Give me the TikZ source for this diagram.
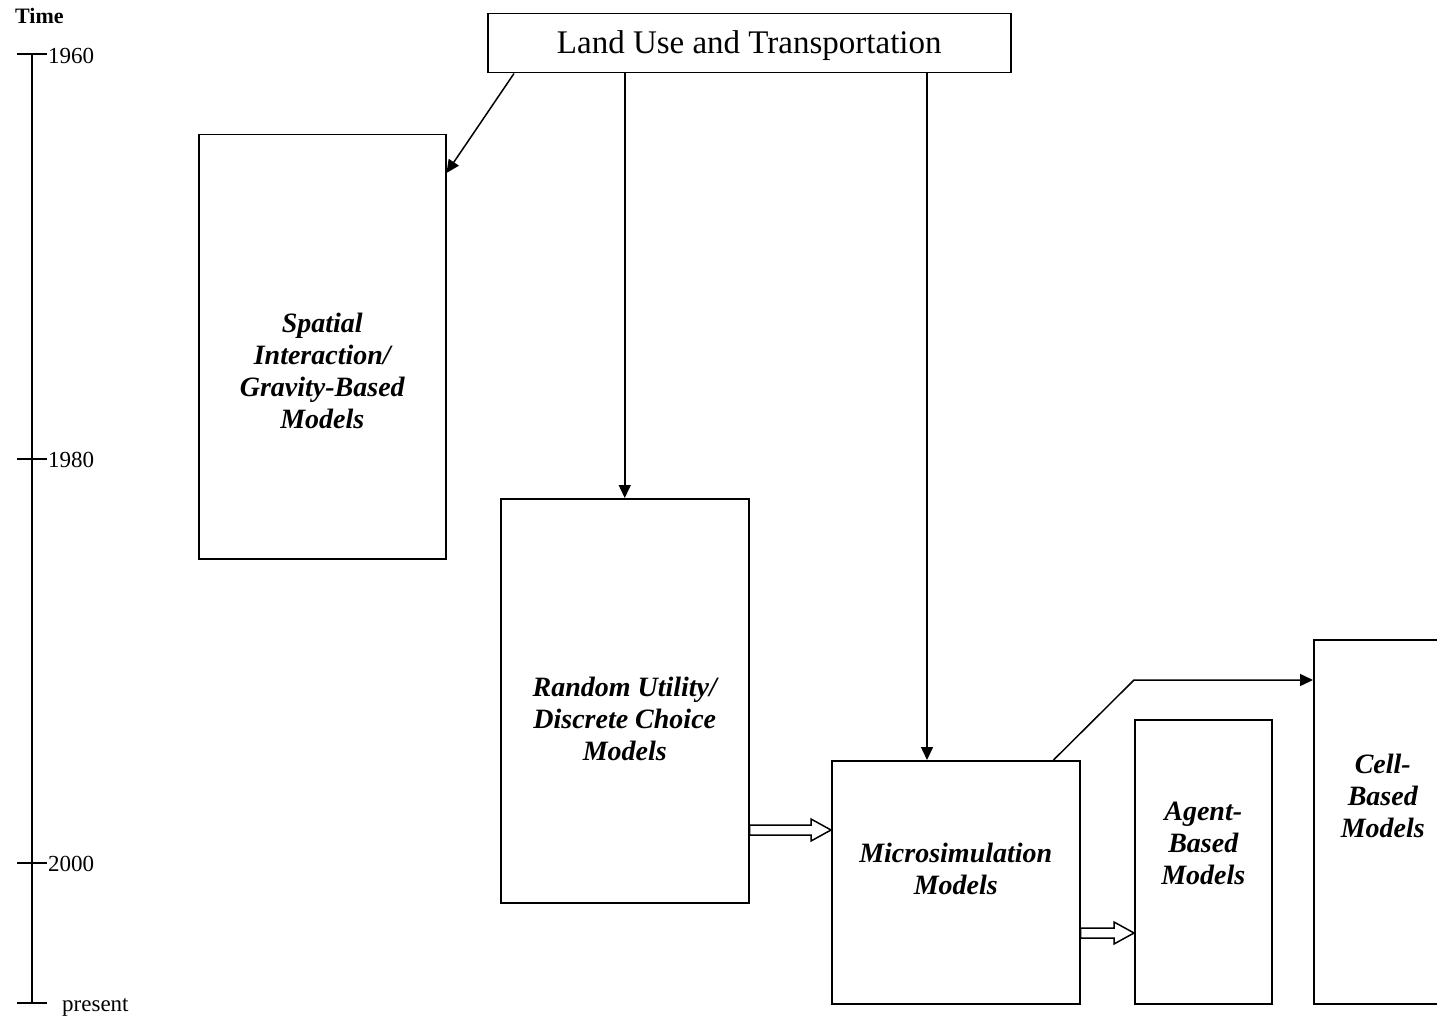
\documentclass[tikz,border=0pt]{standalone}
\usepackage{fontspec}
\setmainfont{Liberation Serif}
\usetikzlibrary{positioning, calc, arrows.meta}

\tikzset{
    modelbox/.style={
        draw,
        line width=1.5pt,
        anchor=north west,
        inner sep=0pt
    },
    modeltext/.style={
        align=center,
        inner sep=0pt,
        font=\fontsize{28}{32}\selectfont\bfseries\itshape
    },
    ptr/.style={
        -{Triangle[length=13pt, width=12pt]},
        line width=1.5pt
    },
    fatarrow/.style={
        draw,
        line width=1.5pt,
        fill=white
    },
    yearlbl/.style={
        anchor=west,
        inner sep=0pt,
        font=\fontsize{23}{27}\selectfont
    }
}

% hollow arrow between two points at the same height
\newcommand{\fatarrow}[2]{%
    \path[fatarrow] let \p1=(#1), \p2=(#2) in
        (\x1,\y1+5pt) -- (\x2-20pt,\y1+5pt) -- (\x2-20pt,\y1+11pt) -- (\x2,\y1)
        -- (\x2-20pt,\y1-11pt) -- (\x2-20pt,\y1-5pt) -- (\x1,\y1-5pt) -- cycle;}

\begin{document}
\begin{tikzpicture}[x=1pt, y=-1pt]
    \useasboundingbox (0,0) rectangle (1437,1016);
    \clip (0,0) rectangle (1437,1016);

    % time axis
    \node[anchor=west, inner sep=0pt, font=\fontsize{22}{26}\selectfont\bfseries] (time) at (15,16) {Time};
    \coordinate (t1960) at (32,54);
    \coordinate (t1980) at (32,459);
    \coordinate (t2000) at (32,863);
    \coordinate (tnow) at (32,1003);
    \draw[line width=1.5pt] (t1960) -- (tnow);
    \foreach \t in {t1960, t1980, t2000, tnow}
        \draw[line width=1.5pt] ([xshift=-15pt]\t) -- ([xshift=15pt]\t);
    \node[yearlbl] (y1960) at (48,56) {1960};
    \node[yearlbl] (y1980) at (48,460) {1980};
    \node[yearlbl] (y2000) at (48,864) {2000};
    \node[yearlbl] (ynow) at (62,1007) {present};

    % boxes
    \node[modelbox, minimum width=523pt, minimum height=59pt] (title) at (487,13) {};
    \node (titletext) at ([yshift=-2pt]title.center) [font=\fontsize{33}{38}\selectfont, inner sep=0pt] {Land Use and Transportation};

    \node[modelbox, minimum width=247pt, minimum height=424pt] (spatial) at (198,134) {};
    \node[modeltext] (spatialtext) at ([yshift=-24pt]spatial.center) {Spatial\\Interaction/\\Gravity-Based\\Models};

    \node[modelbox, minimum width=248pt, minimum height=404pt] (random) at (500,498) {};
    \node[modeltext] (randomtext) at ([yshift=-18pt]random.center) {Random Utility/\\Discrete Choice\\Models};

    \node[modelbox, minimum width=248pt, minimum height=243pt] (micro) at (831,760) {};
    \node[modeltext] (microtext) at ([yshift=13pt]micro.center) {Microsimulation\\Models};

    \node[modelbox, minimum width=137pt, minimum height=284pt] (agent) at (1134,719) {};
    \node[modeltext] (agenttext) at ([yshift=18pt]agent.center) {Agent-\\Based\\Models};

    \node[modelbox, minimum width=138pt, minimum height=364pt] (cell) at (1313,639) {};
    \node[modeltext] (celltext) at ([yshift=26pt]cell.center) {Cell-\\Based\\Models};

    % links
    \draw[ptr] ([xshift=27pt]title.south west) -- ([yshift=-39pt]spatial.north east);
    \draw[ptr] (title.south west -| random.north) -- (random.north);
    \draw[ptr] ([xshift=440pt]title.south west) -- ([xshift=440pt]title.south west |- micro.north);
    \draw[ptr] ([xshift=-27pt]micro.north east) -- ([yshift=-41pt]cell.north west -| agent.west)
        -- ([yshift=-41pt]cell.north west);

    % hollow arrows
    \coordinate (r2m) at ([yshift=-70pt]micro.north west);
    \coordinate (m2a) at ([yshift=-214pt]agent.north west);
    \fatarrow{random.east |- r2m}{r2m}
    \fatarrow{micro.east |- m2a}{m2a}
\end{tikzpicture}
\end{document}
